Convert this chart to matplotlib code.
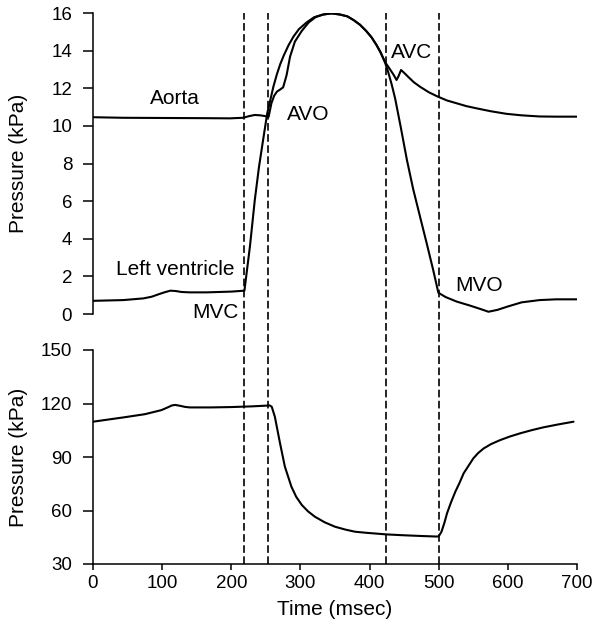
import matplotlib
matplotlib.use("Agg")
import matplotlib.pyplot as plt
from matplotlib.lines import Line2D
from matplotlib.transforms import blended_transform_factory

plt.rcParams['font.family'] = ['Liberation Sans', 'DejaVu Sans']
plt.rcParams['lines.scale_dashes'] = False

# ---- data ----
aorta_t = [0, 44, 100, 160, 198, 217, 226, 234, 242, 249, 254, 258, 262, 266, 271, 275, 280, 285,
           292, 302, 312, 322, 333, 345, 357, 368, 377, 386, 395, 403, 410, 416, 422,
           426, 430, 435, 439, 442, 445.5, 450, 456, 464, 473, 486, 499, 512, 526, 540, 555, 575,
           598, 620, 646, 670, 700]
aorta_p = [10.46, 10.43, 10.42, 10.41, 10.40, 10.43, 10.52, 10.58, 10.56, 10.52, 10.48, 11.2, 11.6, 11.82, 11.94, 12.05, 12.7, 13.68,
           14.48, 15.05, 15.5, 15.78, 15.92, 15.98, 15.92, 15.82, 15.62, 15.38, 15.05, 14.7, 14.3, 13.9, 13.41,
           13.2, 12.98, 12.7, 12.44, 12.65, 12.97, 12.82, 12.6, 12.32, 12.08, 11.78, 11.55, 11.35, 11.2, 11.05, 10.93, 10.78,
           10.64, 10.56, 10.5, 10.49, 10.49]

lv_t = [0, 44, 73, 85, 95, 104, 112, 120, 128, 140, 164, 200, 219, 227, 234, 240, 246, 252, 256, 261, 266, 271, 276,
        283, 290, 298, 309, 320, 333, 345, 357, 368, 377, 386, 395, 403, 410, 416, 422,
        427, 432, 437, 445, 454, 463, 473, 483, 492, 499.5,
        510, 526, 545, 560, 572, 585, 600, 620, 646, 670, 700]
lv_p = [0.70, 0.74, 0.83, 0.92, 1.05, 1.16, 1.24, 1.22, 1.17, 1.15, 1.15, 1.19, 1.24, 3.6, 6.06, 7.8, 9.25, 10.67, 11.3, 12.1, 12.75, 13.3, 13.75,
        14.3, 14.75, 15.15, 15.5, 15.78, 15.92, 15.98, 15.92, 15.82, 15.62, 15.38, 15.05, 14.7, 14.3, 13.9, 13.41,
        12.85, 12.2, 11.45, 9.95, 8.19, 6.65, 5.17, 3.7, 2.34, 1.13,
        0.9, 0.66, 0.45, 0.27, 0.12, 0.22, 0.4, 0.62, 0.74, 0.78, 0.78]

vol_t = [0, 44, 75, 99, 108, 114, 119, 126, 133, 140, 170, 200, 230, 251, 255, 258.5, 263, 270.5, 277.5, 287, 294,
         302, 311, 321, 335, 350, 365, 379, 395, 408, 424, 450, 475, 497, 500,
         504, 508, 512, 518, 524, 530, 536, 543, 550, 557, 565, 576, 589, 603, 618, 635, 651, 672, 695]
vol_v = [109.8, 112.2, 114.0, 116.3, 117.8, 118.9, 119.2, 118.7, 118.1, 117.8, 117.8, 118.0, 118.4, 118.8, 119.0, 118.2, 112.6, 97.7, 84.6, 73.3, 67.6,
         63.1, 59.5, 56.5, 53.4, 50.9, 49.3, 48.1, 47.5, 47.1, 46.6, 46.1, 45.7, 45.4, 45.5,
         48.1, 52.8, 58.4, 64.8, 70.5, 75.4, 80.8, 85.0, 89.2, 92.2, 94.8, 97.3, 99.5, 101.5, 103.3, 105.1, 106.6, 108.2, 109.8]

valve_times = [219, 253, 424, 500]

labels = ["Aorta", "AVO", "Left ventricle", "MVC", "AVC", "MVO"]
label_t = [118.6, 311.4, 119.6, 176.5, 460.9, 558.3]
label_p = [11.43, 10.63, 2.37, 0.09, 13.89, 1.5]

top_yticks = [0, 2, 4, 6, 8, 10, 12, 14, 16]
bot_yticks = [30, 60, 90, 120, 150]
xticks = [0, 100, 200, 300, 400, 500, 600, 700]

# ---- figure ----
W, H = 597, 631
fig = plt.figure(figsize=(W / 100, H / 100), dpi=100)
left = 93 / W
width = (577 - 93) / W
ax1 = fig.add_axes([left, 1 - 314 / H, width, (314 - 13) / H])
ax2 = fig.add_axes([left, 1 - 564 / H, width, (564 - 350) / H], sharex=ax1)

lw = 1.5
for t, p in ((aorta_t, aorta_p), (lv_t, lv_p)):
    ax1.plot(t, p, color='black', lw=lw, solid_joinstyle='round', solid_capstyle='round')
ax2.plot(vol_t, vol_v, color='black', lw=lw, solid_joinstyle='round', solid_capstyle='round')

ax1.set_xlim(0, 700)
ax1.set_ylim(0, 16)
ax2.set_ylim(30, 150)

label_x = (28 - 93) / (577 - 93)
for ax in (ax1, ax2):
    ax.spines['top'].set_visible(False)
    ax.spines['right'].set_visible(False)
    ax.spines['left'].set_linewidth(1.1)
    ax.spines['bottom'].set_linewidth(1.1)
    ax.tick_params(axis='y', direction='out', length=7, width=1.1, pad=8, labelsize=13.5)
    ax.set_ylabel("Pressure (kPa)", fontsize=15)
    ax.yaxis.set_label_coords(label_x, 0.5)

ax1.spines['bottom'].set_visible(False)
ax1.tick_params(axis='x', which='both', bottom=False, labelbottom=False)
ax1.set_yticks(top_yticks)
ax2.set_yticks(bot_yticks)
ax2.set_xticks(xticks)
ax2.tick_params(axis='x', direction='out', length=4, width=1.1, pad=4, labelsize=13.5)
ax2.set_xlabel("Time (msec)", fontsize=15, labelpad=6)

for s, t, p in zip(labels, label_t, label_p):
    ax1.text(t, p, s, ha='center', va='center', fontsize=15)

# dashed valve event lines spanning both panels
trans = blended_transform_factory(ax2.transData, fig.transFigure)
y_bot = 1 - 564 / H
y_top = 1 - 13 / H
for xv in valve_times:
    fig.add_artist(Line2D([xv, xv], [y_bot, y_top], transform=trans, color='black',
                          lw=1.2, linestyle=(0, (5.5, 2.5))))

fig.savefig("out.png", dpi=100)
